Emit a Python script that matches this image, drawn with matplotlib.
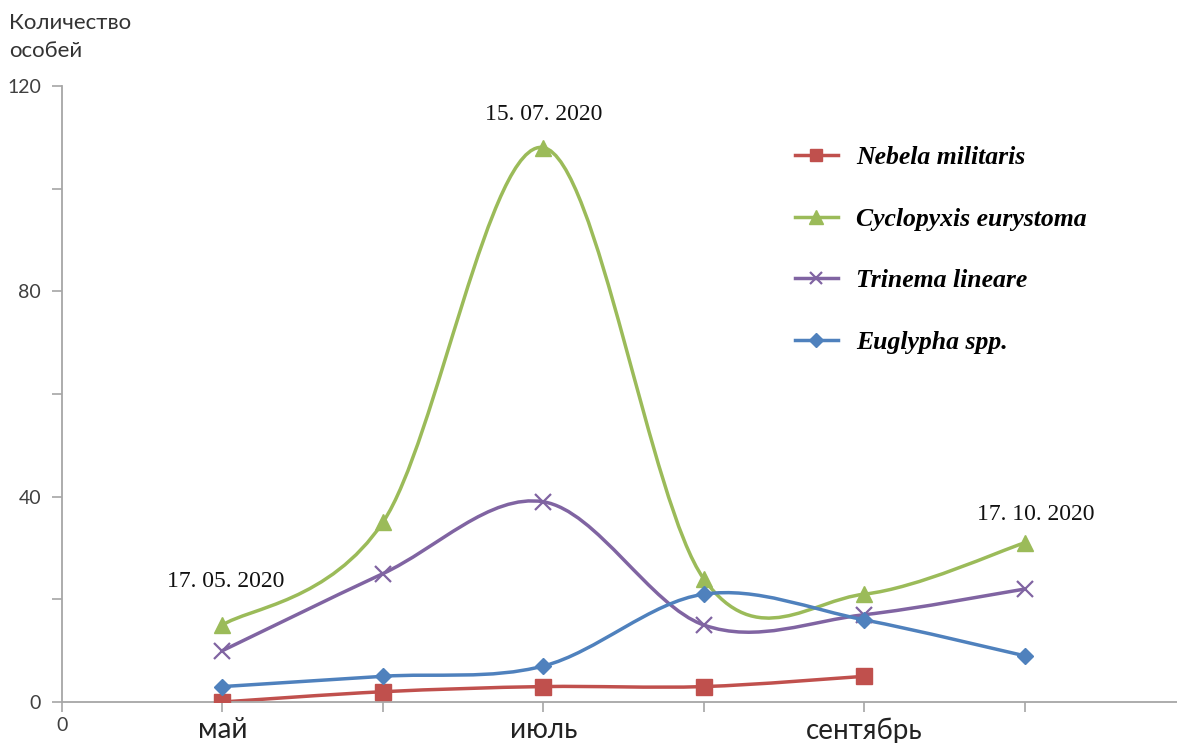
import numpy as np
import matplotlib
matplotlib.use("Agg")
import matplotlib.pyplot as plt
from matplotlib.path import Path
from matplotlib.patches import PathPatch
from matplotlib.lines import Line2D

# data (samples May..October 2020)
months = [0, 1, 2, 3, 4, 5]
month_labels = ["0", "май", "", "июль", "", "сентябрь", ""]
nebela = [0, 2, 3, 3, 5]
cyclopyxis = [15, 35, 108, 24, 21, 31]
trinema = [10, 25, 39, 15, 17, 22]
euglypha = [3, 5, 7, 21, 16, 9]

series = [
    ("Nebela militaris", nebela, "#C0504D", "s", 11, 1),
    ("Cyclopyxis eurystoma", cyclopyxis, "#9BBB59", "^", 12, 1),
    ("Trinema lineare", trinema, "#8064A2", "x", 11, 2),
    ("Euglypha spp.", euglypha, "#4F81BD", "D", 8, 1),
]

sans = ["Lato", "DejaVu Sans"]


def smooth(xs, ys):
    # Excel-like smoothed line: cubic bezier through the points
    pts = np.column_stack([xs, ys]).astype(float)
    verts = [pts[0]]
    codes = [Path.MOVETO]
    n = len(pts)
    for i in range(n - 1):
        p0 = pts[i - 1] if i > 0 else pts[i]
        p1, p2 = pts[i], pts[i + 1]
        p3 = pts[i + 2] if i + 2 < n else pts[i + 1]
        verts += [p1 + (p2 - p0) / 6, p2 - (p3 - p1) / 6, p2]
        codes += [Path.CURVE4] * 3
    return Path(verts, codes)


fig = plt.figure(figsize=(11.77, 7.43), dpi=100)
ax = fig.add_axes([0.0527, 0.0552, 0.9473, 0.8291])

handles = []
for name, vals, col, mk, ms, mew in series:
    xs = months[:len(vals)]
    ax.add_patch(PathPatch(smooth(xs, vals), facecolor="none", edgecolor=col,
                           lw=2.5, zorder=2))
    ax.plot(xs, vals, ls="none", marker=mk, ms=ms, color=col, mec=col,
            mew=mew if mk != "x" else 1.6, zorder=3)
    handles.append(Line2D([], [], color=col, lw=2.5, marker=mk, ms=ms * 0.85,
                          mec=col, mew=1.6 if mk == "x" else 1))

ax.set_xlim(-1, 5.95)
ax.set_ylim(0, 120)

ax.set_xticks([-1, 0, 1, 2, 3, 4, 5])
ax.set_xticklabels(month_labels)
ax.set_yticks([0, 20, 40, 60, 80, 100, 120])
ax.set_yticklabels(["0", "", "40", "", "80", "", "120"])

for s in ["top", "right"]:
    ax.spines[s].set_visible(False)
for s in ["left", "bottom"]:
    ax.spines[s].set_color("#a6a6a6")
    ax.spines[s].set_linewidth(1.3)
ax.tick_params(axis="both", colors="#a6a6a6", length=7, width=1.2)
ax.tick_params(axis="y", labelcolor="#404040", labelsize=14, pad=8)
ax.tick_params(axis="x", labelcolor="#222222", labelsize=20, pad=4)
for lab in ax.get_xticklabels() + ax.get_yticklabels():
    lab.set_family(sans)
ax.get_xticklabels()[0].set_fontsize(14)
ax.get_xticklabels()[0].set_color("#404040")

fig.text(0.008, 0.982, "Количество\nособей", ha="left", va="top",
         fontsize=16, family=sans, color="#333333", linespacing=1.5)

ann = dict(ha="center", va="center", fontsize=17, family="Liberation Serif",
           color="#111111")
ax.text(2, 114.5, "15. 07. 2020", **ann)
ax.text(0.02, 23.5, "17. 05. 2020", **ann)
ax.text(5.07, 36.5, "17. 10. 2020", **ann)

leg = ax.legend(handles, [s[0] for s in series], loc="upper left",
                bbox_to_anchor=(0.657, 0.902), frameon=False,
                borderpad=0, borderaxespad=0,
                labelspacing=1.5, handlelength=1.7, handletextpad=0.7,
                prop={"family": "Liberation Serif", "weight": "bold",
                      "style": "italic", "size": 18.5})

fig.savefig("out.png", dpi=100)
